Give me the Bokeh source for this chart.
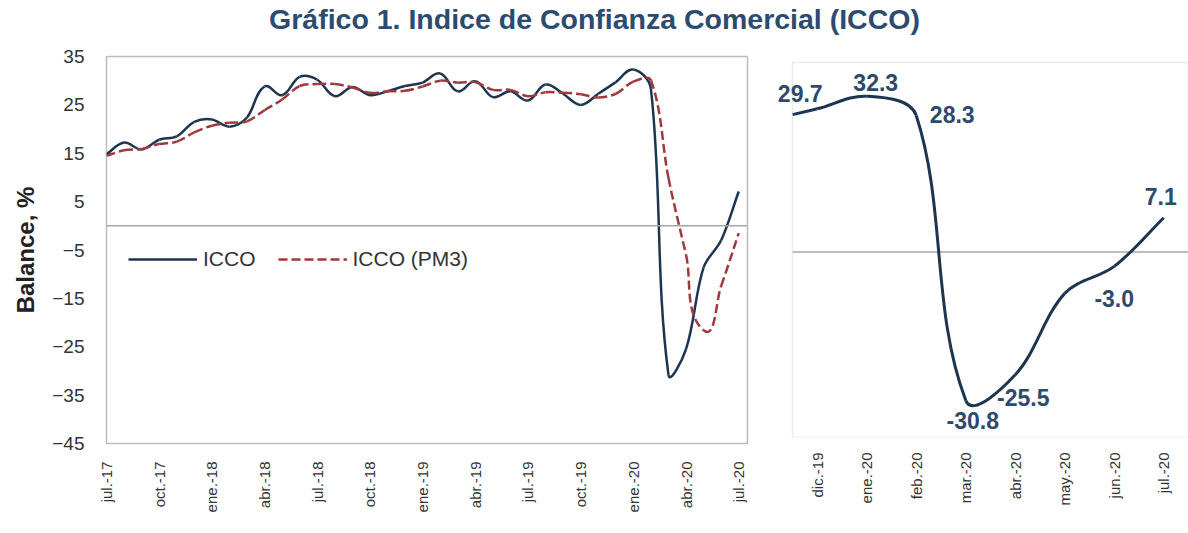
from math import hypot
from bokeh.plotting import figure
from bokeh.models import (Range1d, Span, Legend, LegendItem, LabelSet, BoxAnnotation,
                          ColumnDataSource, FixedTicker)
from bokeh.core.properties import value
from bokeh.layouts import column, row
from bokeh.embed import file_html
from bokeh.resources import INLINE

# ---------------- data ----------------
months = ["jul.-17", "ago.-17", "sep.-17", "oct.-17", "nov.-17", "dic.-17",
          "ene.-18", "feb.-18", "mar.-18", "abr.-18", "may.-18", "jun.-18",
          "jul.-18", "ago.-18", "sep.-18", "oct.-18", "nov.-18", "dic.-18",
          "ene.-19", "feb.-19", "mar.-19", "abr.-19", "may.-19", "jun.-19",
          "jul.-19", "ago.-19", "sep.-19", "oct.-19", "nov.-19", "dic.-19",
          "ene.-20", "feb.-20", "mar.-20", "abr.-20", "may.-20", "jun.-20",
          "jul.-20"]
icco = [14.8, 17.2, 15.8, 17.8, 18.5, 21.5, 22.0, 20.5, 22.4, 28.8, 27.0, 30.8,
        30.2, 26.8, 28.7, 27.0, 27.8, 28.9, 29.6, 31.5, 27.8, 29.9, 26.6, 27.8,
        25.9, 29.2, 27.3, 25.0, 27.3, 29.7, 32.3, 28.3, -30.8, -25.5, -8.6, -3.0,
        7.1]
icco_pm3 = [14.5, 15.6, 15.9, 16.9, 17.4, 19.3, 20.7, 21.3, 21.6, 23.9, 26.1, 28.9,
            29.3, 29.3, 28.6, 27.5, 27.8, 27.9, 28.8, 30.0, 29.6, 29.7, 28.1, 28.1,
            26.8, 27.6, 27.5, 27.2, 26.5, 27.3, 29.8, 30.1, 9.9, -6.0, -21.6, -12.4,
            -1.5]
left_tick_labels = ["jul.-17", "oct.-17", "ene.-18", "abr.-18", "jul.-18", "oct.-18",
                    "ene.-19", "abr.-19", "jul.-19", "oct.-19", "ene.-20", "abr.-20",
                    "jul.-20"]
y_ticks = [-45, -35, -25, -15, -5, 5, 15, 25, 35]
# right panel: nov.-19 lies just outside the visible axis (line enters from the left)
right_first = "nov.-19"
right_tick_labels = ["dic.-19", "ene.-20", "feb.-20", "mar.-20", "abr.-20",
                     "may.-20", "jun.-20", "jul.-20"]
labelled_months = ["dic.-19", "ene.-20", "feb.-20", "mar.-20", "abr.-20",
                   "jun.-20", "jul.-20"]

# ---------------- styles ----------------
FONT = "Liberation Sans"
NAVY = "#1E3550"
RED = "#A0393E"
LABEL_BLUE = "#2E4A6B"
TITLE_BLUE = "#2C4B70"
FRAME_GRAY = "#BDBDBD"
ZERO_GRAY = "#A6A6A6"
TEXT_GRAY = "#333333"
# label offsets in screen px (dx right, dy up) for labelled_months
label_dx = [-17, 9, 36, 7, 8, 0, -3]
label_dy = [15, 14, 1, -20, -23, -32, 21]

TOP = 16                       # common top border (px)
BOTTOM = 90                    # common bottom border (px)
L_FW, L_FH = 641, 387          # left frame size (px)
L_X = (0, 36.5)
L_Y = (-45, 35)
R_FW, R_FH = 396, 375          # right visible box size (px)
R_PAD = 24                     # px of blank space left of the right box
R_PAD_TOP = 6                  # px of blank space above the right box
R_X = (-0.5, 7.5)
R_Y = (-38.5, 39.3)


def _lerp(a, b, t):
    return (a[0] + (b[0] - a[0]) * t, a[1] + (b[1] - a[1]) * t)


def bezier_source(xs, ys, sx, sy, x_min=None):
    """Smoothed-line segments (spreadsheet-style smoothing, screen-space tangents).
    Parts of the curve left of x_min are cut off."""
    n = len(xs)
    P = [(x * sx, y * sy) for x, y in zip(xs, ys)]

    def tangent(i):
        a = P[max(i - 1, 0)]
        b = P[min(i + 1, n - 1)]
        dx, dy = b[0] - a[0], b[1] - a[1]
        L = hypot(dx, dy) or 1.0
        return dx / L, dy / L

    d = dict(x0=[], y0=[], x1=[], y1=[], cx0=[], cy0=[], cx1=[], cy1=[])
    for i in range(n - 1):
        seg = hypot(P[i + 1][0] - P[i][0], P[i + 1][1] - P[i][1]) / 3.0
        u0 = tangent(i)
        u1 = tangent(i + 1)
        p0 = P[i]
        p1 = (P[i][0] + u0[0] * seg, P[i][1] + u0[1] * seg)
        p2 = (P[i + 1][0] - u1[0] * seg, P[i + 1][1] - u1[1] * seg)
        p3 = P[i + 1]
        if x_min is not None and xs[i] < x_min:
            if xs[i + 1] <= x_min:
                continue
            xm = x_min * sx
            lo, hi = 0.0, 1.0
            for _ in range(60):
                t = (lo + hi) / 2
                bx = ((1 - t) ** 3 * p0[0] + 3 * (1 - t) ** 2 * t * p1[0]
                      + 3 * (1 - t) * t ** 2 * p2[0] + t ** 3 * p3[0])
                if bx < xm:
                    lo = t
                else:
                    hi = t
            t = (lo + hi) / 2
            p01, p12, p23 = _lerp(p0, p1, t), _lerp(p1, p2, t), _lerp(p2, p3, t)
            p012, p123 = _lerp(p01, p12, t), _lerp(p12, p23, t)
            p0, p1, p2 = _lerp(p012, p123, t), p123, p23
        d["x0"].append(p0[0] / sx); d["y0"].append(p0[1] / sy)
        d["x1"].append(p3[0] / sx); d["y1"].append(p3[1] / sy)
        d["cx0"].append(p1[0] / sx); d["cy0"].append(p1[1] / sy)
        d["cx1"].append(p2[0] / sx); d["cy1"].append(p2[1] / sy)
    return ColumnDataSource(d)


def style_common(p):
    p.grid.visible = False
    p.background_fill_color = "white"
    p.border_fill_color = "white"
    for ax in p.axis:
        ax.axis_line_color = None
        ax.major_tick_line_color = None
        ax.minor_tick_line_color = None
        ax.major_tick_out = 0
        ax.major_tick_in = 0
        ax.minor_tick_out = 0
        ax.major_label_text_font = FONT
        ax.major_label_text_color = TEXT_GRAY


# ---------------- title ----------------
tfig = figure(width=1188, height=40, toolbar_location=None, output_backend="svg",
              min_border=0, outline_line_color=None,
              x_range=Range1d(0, 1), y_range=Range1d(0, 1))
tfig.axis.visible = False
tfig.grid.visible = False
tfig.title.text = "Gráfico 1. Indice de Confianza Comercial (ICCO)"
tfig.title.align = "center"
tfig.title.text_font = FONT
tfig.title.text_font_size = "28.5px"
tfig.title.text_font_style = "bold"
tfig.title.text_color = TITLE_BLUE
tfig.title.standoff = 0

# ---------------- left chart ----------------
idx = list(range(len(months)))
left = figure(title=None, frame_width=L_FW, frame_height=L_FH,
              toolbar_location=None, output_backend="svg",
              x_range=Range1d(*L_X), y_range=Range1d(*L_Y),
              min_border_left=106, min_border_right=21,
              min_border_top=TOP, min_border_bottom=BOTTOM)
style_common(left)
left.outline_line_color = FRAME_GRAY
left.outline_line_width = 1.5

left.add_layout(Span(location=0, dimension="width", line_color=ZERO_GRAY,
                     line_width=1.5))

lsx = L_FW / (L_X[1] - L_X[0])
lsy = L_FH / (L_Y[1] - L_Y[0])
src_icco = bezier_source(idx, icco, lsx, lsy)
src_pm3 = bezier_source(idx, icco_pm3, lsx, lsy)
r_icco = left.bezier(x0="x0", y0="y0", x1="x1", y1="y1", cx0="cx0", cy0="cy0",
                     cx1="cx1", cy1="cy1", source=src_icco,
                     line_color=NAVY, line_width=2.5)
r_pm3 = left.bezier(x0="x0", y0="y0", x1="x1", y1="y1", cx0="cx0", cy0="cy0",
                    cx1="cx1", cy1="cy1", source=src_pm3,
                    line_color=RED, line_width=2.5, line_dash="9 4")

left.xaxis.ticker = FixedTicker(ticks=[months.index(m) for m in left_tick_labels])
left.xaxis.major_label_overrides = {months.index(m): m for m in left_tick_labels}
left.xaxis.major_label_orientation = 1.5708
left.xaxis.major_label_text_font_size = "15px"
left.xaxis.major_label_standoff = 18

left.yaxis.ticker = FixedTicker(ticks=y_ticks)
left.yaxis.major_label_text_font_size = "19px"
left.yaxis.major_label_standoff = 22
left.yaxis.axis_label = "Balance, %"
left.yaxis.axis_label_text_font = FONT
left.yaxis.axis_label_text_font_size = "24px"
left.yaxis.axis_label_text_font_style = "bold"
left.yaxis.axis_label_text_color = "#222222"
left.yaxis.axis_label_standoff = 10

legend = Legend(items=[LegendItem(label="ICCO", renderers=[r_icco]),
                       LegendItem(label="ICCO (PM3)", renderers=[r_pm3])],
                orientation="horizontal", location=(22, 172),
                background_fill_alpha=0, border_line_color=None,
                padding=0, margin=0, spacing=22, glyph_width=69,
                glyph_height=20, label_standoff=6, label_height=20,
                label_text_font=FONT, label_text_font_size="21px",
                label_text_color=TEXT_GRAY)
left.add_layout(legend)

# ---------------- right chart ----------------
start = months.index(right_first)
r_months = months[start:]
r_vals = icco[start:]
r_x = [i - 1 for i in range(len(r_months))]   # nov.-19 at -1 (outside the box)

rsx = R_FW / (R_X[1] - R_X[0])
rsy = R_FH / (R_Y[1] - R_Y[0])
right = figure(title=None, frame_width=R_PAD + R_FW, frame_height=R_PAD_TOP + R_FH,
               toolbar_location=None, output_backend="svg",
               x_range=Range1d(R_X[0] - R_PAD / rsx, R_X[1]),
               y_range=Range1d(R_Y[0], R_Y[1] + R_PAD_TOP / rsy),
               min_border_left=0, min_border_right=0,
               min_border_top=TOP, min_border_bottom=BOTTOM)
style_common(right)
right.outline_line_color = None
right.yaxis.visible = False

src_r = bezier_source(r_x, r_vals, rsx, rsy, x_min=R_X[0])
right.bezier(x0="x0", y0="y0", x1="x1", y1="y1", cx0="cx0", cy0="cy0",
             cx1="cx1", cy1="cy1", source=src_r, line_color=NAVY, line_width=3)

# zero line only across the visible box
right.segment(x0=[R_X[0]], y0=[0], x1=[R_X[1]], y1=[0],
              line_color=ZERO_GRAY, line_width=1.5, level="underlay")
# visible box outline
right.add_layout(BoxAnnotation(left=R_X[0], right=R_X[1], bottom=R_Y[0], top=R_Y[1],
                               fill_alpha=0, line_color=FRAME_GRAY, line_width=1.5))

right.xaxis.ticker = FixedTicker(ticks=[r_x[r_months.index(m)] for m in right_tick_labels])
right.xaxis.major_label_overrides = {r_x[r_months.index(m)]: m for m in right_tick_labels}
right.xaxis.major_label_orientation = 1.5708
right.xaxis.major_label_text_font_size = "15px"
right.xaxis.major_label_standoff = 15

lab_x = [r_x[r_months.index(m)] for m in labelled_months]
lab_y = [r_vals[r_months.index(m)] for m in labelled_months]
lab_src = ColumnDataSource(dict(x=lab_x, y=lab_y,
                                text=[f"{v:.1f}" for v in lab_y],
                                dx=label_dx, dy=label_dy))
right.add_layout(LabelSet(x="x", y="y", text="text", x_offset="dx", y_offset="dy",
                          source=lab_src, text_align="center",
                          text_baseline="middle", text_font=value(FONT),
                          text_font_size=value("23px"),
                          text_font_style=value("bold"),
                          text_color=LABEL_BLUE))

layout = column(tfig, row(left, right, spacing=0), spacing=0)
open("out.html", "w").write(file_html(layout, INLINE))
